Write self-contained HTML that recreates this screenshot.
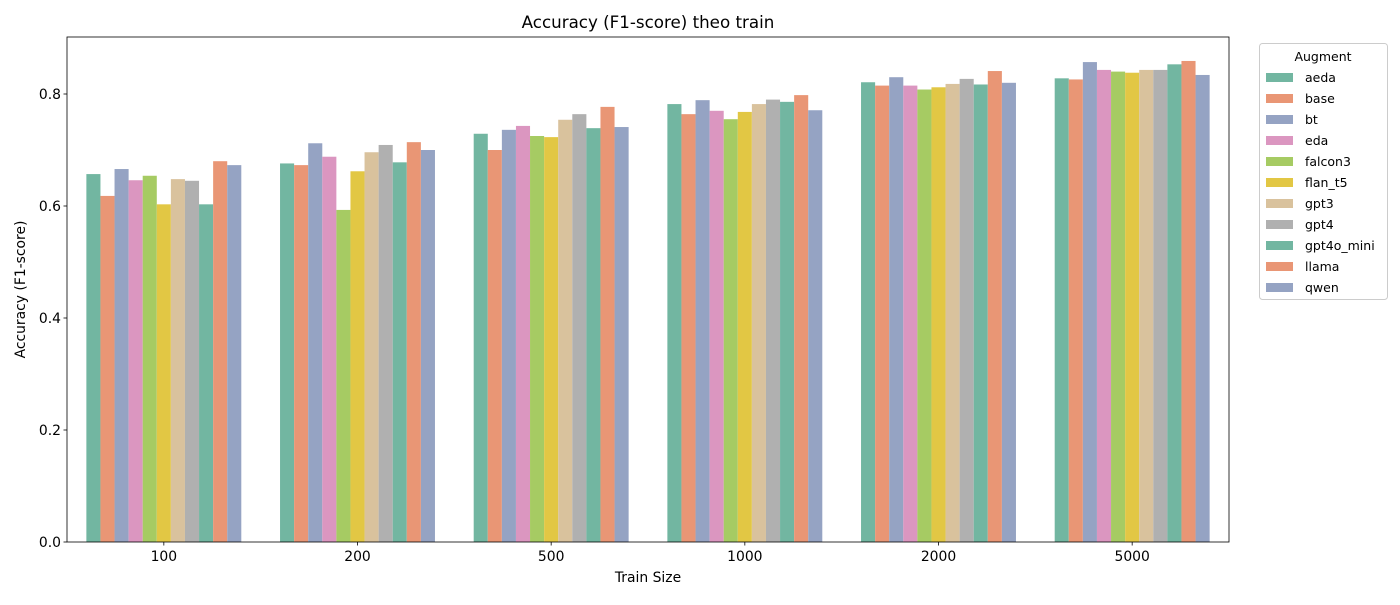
<!DOCTYPE html>
<html><head><meta charset="utf-8"><style>
body{margin:0;background:#fff;font-family:"Liberation Sans",sans-serif}
svg text{font-family:"DejaVu Sans","Liberation Sans",sans-serif;fill:#000}
</style></head><body>
<svg id="chart" width="1400" height="600">
<rect width="1400" height="600" fill="#fff"/>
<g id="marks"></g>
<g id="axes"></g>
</svg>
<script>
const categories=["100","200","500","1000","2000","5000"];
const series=["aeda","base","bt","eda","falcon3","flan_t5","gpt3","gpt4","gpt4o_mini","llama","qwen"];
const colors=["#72b6a1","#e99675","#95a3c3","#db96c0","#a6cb63","#e2c744","#d9c29d","#b0b0b0","#72b6a1","#e99675","#95a3c3"];
const v_aeda=[0.657,0.676,0.729,0.782,0.821,0.828];
const v_base=[0.618,0.673,0.700,0.764,0.815,0.826];
const v_bt=[0.666,0.712,0.736,0.789,0.830,0.857];
const v_eda=[0.646,0.688,0.743,0.770,0.815,0.843];
const v_falcon3=[0.654,0.593,0.725,0.755,0.808,0.840];
const v_flan_t5=[0.603,0.662,0.723,0.768,0.812,0.838];
const v_gpt3=[0.648,0.696,0.754,0.782,0.818,0.843];
const v_gpt4=[0.645,0.709,0.764,0.790,0.827,0.843];
const v_gpt4o_mini=[0.603,0.678,0.739,0.786,0.817,0.853];
const v_llama=[0.680,0.714,0.777,0.798,0.841,0.859];
const v_qwen=[0.673,0.700,0.741,0.771,0.820,0.834];
const values=[v_aeda,v_base,v_bt,v_eda,v_falcon3,v_flan_t5,v_gpt3,v_gpt4,v_gpt4o_mini,v_llama,v_qwen];
const yTicks=[0,0.2,0.4,0.6,0.8];
const NS="http://www.w3.org/2000/svg";
const L=67,R=1229,T=37,B=542,yMax=(B-T)/560;
const y=v=>B-v/yMax*(B-T);
const gw=(R-L)/categories.length;
const xc=i=>L+gw*(i+0.5);
const bw=gw*0.8/series.length;
function mk(tag,attrs,parent){const e=document.createElementNS(NS,tag);for(const k in attrs)e.setAttribute(k,attrs[k]);parent.appendChild(e);return e;}
const marks=document.getElementById('marks'),axes=document.getElementById('axes'),svg=document.getElementById('chart');
series.forEach((s,si)=>{categories.forEach((c,ci)=>{
 const v=values[si][ci];
 const r=mk('rect',{x:xc(ci)-gw*0.4+si*bw,y:y(v),width:bw,height:B-y(v),fill:colors[si]},marks);
 
 
});});
const frame=mk('rect',{x:L,y:T,width:R-L,height:B-T,fill:'none',stroke:'#000','stroke-width':0.8},axes);


yTicks.forEach(t=>{
 mk('line',{x1:L-3.5,x2:L,y1:y(t),y2:y(t),stroke:'#000','stroke-width':0.8},axes);
 const tx=mk('text',{x:L-6,y:y(t)+5,'text-anchor':'end','font-size':13.9},axes);tx.textContent=t.toFixed(1);
 
 
});
categories.forEach((c,i)=>{
 mk('line',{x1:xc(i),x2:xc(i),y1:B,y2:B+3.5,stroke:'#000','stroke-width':0.8},axes);
 const tx=mk('text',{x:xc(i),y:B+19,'text-anchor':'middle','font-size':13.9},axes);tx.textContent=c;
 
 
});
let t=mk('text',{x:(L+R)/2,y:28,'text-anchor':'middle','font-size':16.7},svg);t.textContent='Accuracy (F1-score) theo train';


t=mk('text',{x:(L+R)/2,y:582,'text-anchor':'middle','font-size':13.9},svg);t.textContent='Train Size';


t=mk('text',{x:25,y:(T+B)/2,'text-anchor':'middle','font-size':13.9,transform:'rotate(-90 25 '+((T+B)/2)+')'},svg);t.textContent='Accuracy (F1-score)';


const lg=mk('g',{},svg);


mk('rect',{x:1259.5,y:43.5,width:128,height:256,rx:3,fill:'#fff',stroke:'#ccc'},lg);
t=mk('text',{x:1323,y:61,'text-anchor':'middle','font-size':12.5},lg);t.textContent='Augment';
series.forEach((s,i)=>{
 const yy=77+i*21;
 const sw=mk('rect',{x:1266,y:yy-4,width:27,height:9,fill:colors[i]},lg);
 
 
 const tx=mk('text',{x:1305,y:yy+5,'font-size':12.5},lg);tx.textContent=s;
 
 
});
</script>
</body></html>
